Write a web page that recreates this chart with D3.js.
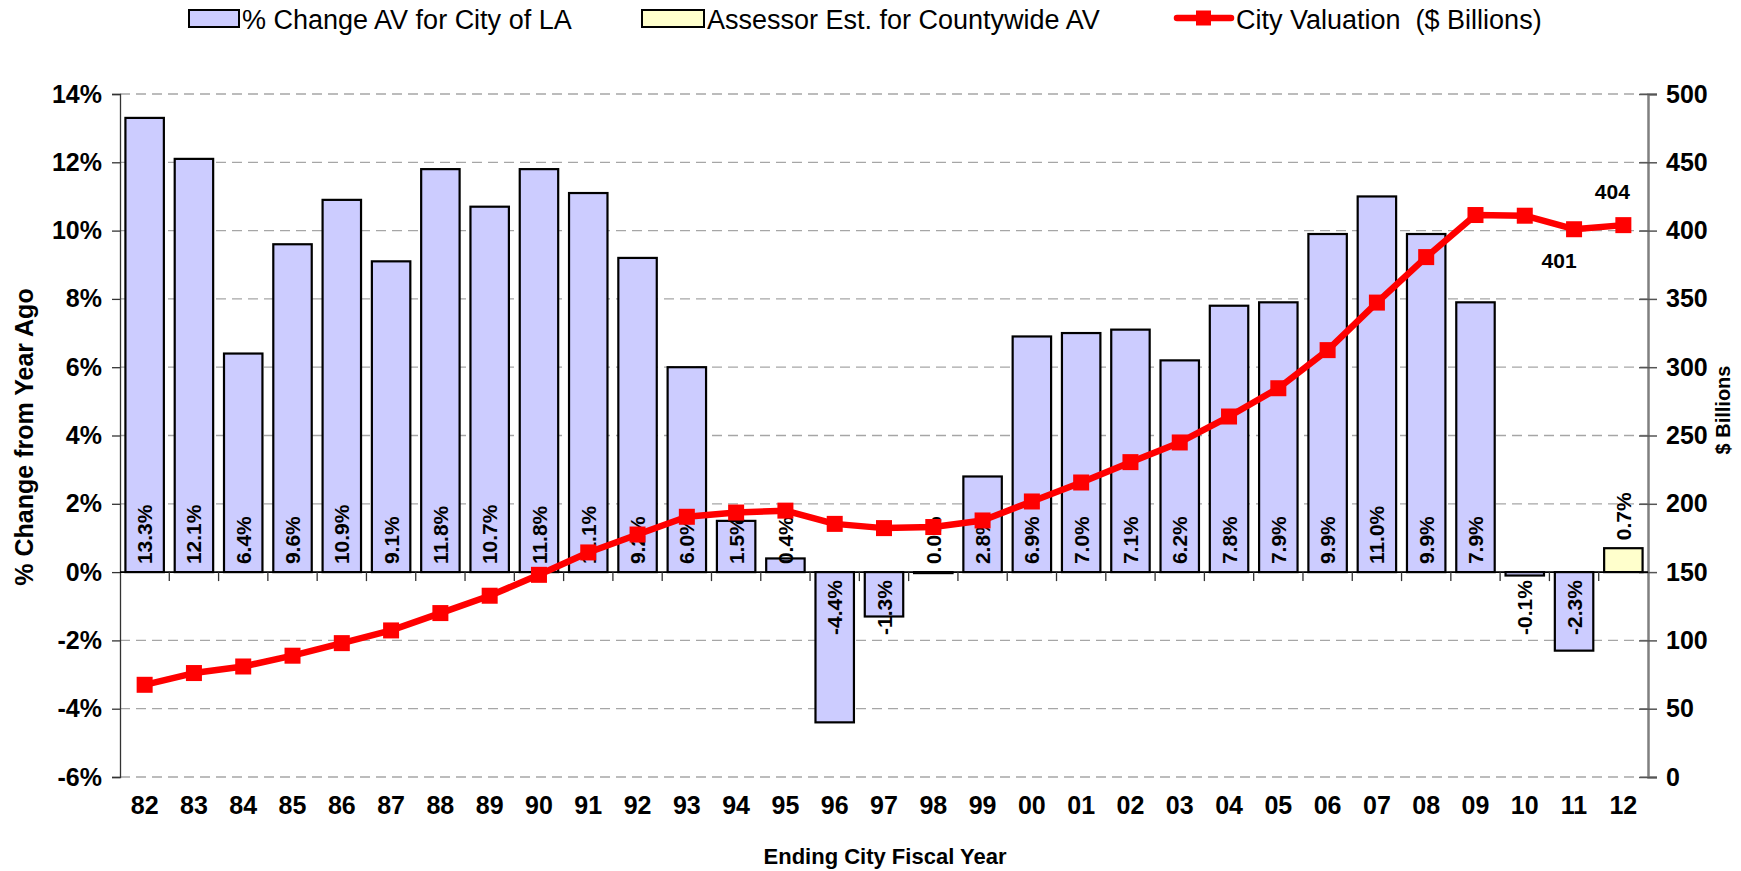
<!DOCTYPE html>
<html>
<head>
<meta charset="utf-8">
<script src="https://cdn.jsdelivr.net/npm/d3@7"></script>
<style>
    body { margin: 0; background: #fff; }
    text { font-family: "Liberation Sans", Arial, sans-serif; fill: #000; white-space: pre; }
</style>
</head>
<body>
<div id="chart"></div>
<script>

// fiscal years (ending)
const years = ["82","83","84","85","86","87","88","89","90","91","92","93","94","95","96",
    "97","98","99","00","01","02","03","04","05","06","07","08","09","10","11","12"];

// % change in assessed value from year ago
const pctChange = [13.3, 12.1, 6.4, 9.6, 10.9, 9.1, 11.8, 10.7, 11.8, 11.1, 9.2, 6.0, 1.5, 0.4, -4.4,
    -1.3, 0.0, 2.8, 6.9, 7.0, 7.1, 6.2, 7.8, 7.9, 9.9, 11.0, 9.9, 7.9, -0.1, -2.3, 0.7];

// years where the bar is the assessor estimate rather than the city figure
const estimateYears = ["12"];

// city valuation, $ billions
const cityValuation = [67.5, 76.1, 80.9, 88.8, 98.0, 107.3, 120.0, 132.7, 148.0, 164.4, 177.5, 190.5,
    193.6, 195.0, 185.3, 182.2, 183.0, 187.8, 201.7, 215.6, 230.5, 244.9, 263.9, 284.6, 312.5, 347.3,
    380.6, 411.4, 410.9, 401.0, 404.0];

// points that carry a value label
const labelledYears = ["11", "12"];

const leftTicks = [-6, -4, -2, 0, 2, 4, 6, 8, 10, 12, 14];
const rightTicks = [0, 50, 100, 150, 200, 250, 300, 350, 400, 450, 500];

const legendItems = ["% Change AV for City of LA", "Assessor Est. for Countywide AV", "City Valuation  ($ Billions)"];


class ValuationChart {

    constructor(_parentElement) {
        this.parentElement = _parentElement;
        this.data = years.map((y, i) => ({
            year: y,
            pct: pctChange[i],
            val: cityValuation[i],
            estimate: estimateYears.includes(y)
        }));
        this.initVis();
    }

    initVis() {
        let vis = this;

        vis.margin = { top: 94, right: 93, bottom: 94, left: 120 };
        vis.width = 1741 - vis.margin.left - vis.margin.right;
        vis.height = 871 - vis.margin.top - vis.margin.bottom;

        vis.root = d3.select("#" + vis.parentElement).append("svg")
            .attr("width", 1741)
            .attr("height", 871);

        vis.svg = vis.root.append("g")
            .attr("transform", "translate(" + vis.margin.left + "," + vis.margin.top + ")");

        // scales
        vis.x = d3.scaleBand()
            .domain(years)
            .range([0, vis.width])
            .paddingInner(0.22)
            .paddingOuter(0.11);

        vis.y = d3.scaleLinear()
            .domain([-6, 14])
            .range([vis.height, 0]);

        vis.y2 = d3.scaleLinear()
            .domain([0, 500])
            .range([vis.height, 0]);

        vis.wrangleData();
    }

    wrangleData() {
        let vis = this;
        vis.displayData = vis.data;
        vis.updateVis();
    }

    updateVis() {
        let vis = this;
        let y0 = vis.y(0);

        // dashed gridlines
        vis.svg.append("g")
            .selectAll("line")
            .data(leftTicks)
            .enter().append("line")
            .attr("x1", 0)
            .attr("x2", vis.width)
            .attr("y1", d => vis.y(d))
            .attr("y2", d => vis.y(d))
            .attr("stroke", "#a6a6a6")
            .attr("stroke-width", 1.3)
            .attr("stroke-dasharray", "10,6");

        // bars
        vis.svg.selectAll(".bar")
            .data(vis.displayData)
            .enter().append("rect")
            .attr("class", "bar")
            .attr("x", d => vis.x(d.year))
            .attr("width", vis.x.bandwidth())
            .attr("y", d => d.pct >= 0 ? vis.y(d.pct) : y0)
            .attr("height", d => Math.max(1, Math.abs(vis.y(d.pct) - y0)))
            .attr("fill", d => d.estimate ? "#ffffcc" : "#ccccff")
            .attr("stroke", "#000")
            .attr("stroke-width", 2.2);

        // left axis
        vis.yAxis = d3.axisLeft(vis.y)
            .tickValues(leftTicks)
            .tickFormat(d => d + "%")
            .tickSize(8)
            .tickPadding(10);

        let ya = vis.svg.append("g")
            .attr("class", "y-axis axis")
            .call(vis.yAxis);
        ya.select(".domain").attr("stroke", "#333").attr("stroke-width", 1.3);
        ya.selectAll(".tick line").attr("stroke", "#333").attr("stroke-width", 1.3);
        ya.selectAll("text")
            .style("font-family", "'Liberation Sans', Arial, sans-serif")
            .style("font-size", "25px")
            .style("font-weight", "bold")
            .attr("fill", "#000");

        // right axis
        vis.yAxis2 = d3.axisRight(vis.y2)
            .tickValues(rightTicks)
            .tickSize(9)
            .tickPadding(9);

        let ya2 = vis.svg.append("g")
            .attr("class", "y2-axis axis")
            .attr("transform", "translate(" + vis.width + ",0)")
            .call(vis.yAxis2);
        ya2.select(".domain").attr("stroke", "#808080").attr("stroke-width", 2.5);
        ya2.selectAll(".tick line")
            .attr("x1", -9)
            .attr("stroke", "#555").attr("stroke-width", 1.5);
        ya2.selectAll("text")
            .style("font-family", "'Liberation Sans', Arial, sans-serif")
            .style("font-size", "25px")
            .style("font-weight", "bold")
            .attr("fill", "#000");

        // category axis sits at 0%
        vis.svg.append("line")
            .attr("x1", 0).attr("x2", vis.width)
            .attr("y1", y0).attr("y2", y0)
            .attr("stroke", "#000")
            .attr("stroke-width", 1.8);

        vis.svg.append("g")
            .selectAll("line")
            .data(years.slice(1))
            .enter().append("line")
            .attr("x1", d => vis.x(d) - vis.x.step() * vis.x.paddingInner() / 2)
            .attr("x2", d => vis.x(d) - vis.x.step() * vis.x.paddingInner() / 2)
            .attr("y1", y0)
            .attr("y2", y0 + 9)
            .attr("stroke", "#333")
            .attr("stroke-width", 1.3);

        // x tick labels at bottom
        vis.svg.append("g")
            .selectAll("text")
            .data(years)
            .enter().append("text")
            .attr("x", d => vis.x(d) + vis.x.bandwidth() / 2)
            .attr("y", vis.height + 37)
            .attr("text-anchor", "middle")
            .style("font-size", "25px")
            .style("font-weight", "bold")
            .text(d => d);

        // bar value labels (rotated)
        vis.svg.append("g")
            .selectAll("text")
            .data(vis.displayData)
            .enter().append("text")
            .attr("transform", d => {
                let cx = vis.x(d.year) + vis.x.bandwidth() / 2;
                let cy;
                if (d.estimate) cy = vis.y(d.pct) - 8;
                else cy = d.pct < 0 ? y0 + 8 : y0 - 8;
                return "translate(" + cx + "," + cy + ") rotate(-90)";
            })
            .attr("text-anchor", d => d.pct < 0 ? "end" : "start")
            .attr("dy", "0.36em")
            .style("font-size", "21px")
            .style("font-weight", "bold")
            .text(d => d.pct.toFixed(1) + "%");

        // valuation line
        let line = d3.line()
            .x(d => vis.x(d.year) + vis.x.bandwidth() / 2)
            .y(d => vis.y2(d.val));

        vis.svg.append("path")
            .datum(vis.displayData)
            .attr("d", line)
            .attr("fill", "none")
            .attr("stroke", "#ff0000")
            .attr("stroke-width", 6.5)
            .attr("stroke-linejoin", "round");

        vis.svg.selectAll(".marker")
            .data(vis.displayData)
            .enter().append("rect")
            .attr("class", "marker")
            .attr("x", d => vis.x(d.year) + vis.x.bandwidth() / 2 - 8)
            .attr("y", d => vis.y2(d.val) - 8)
            .attr("width", 16)
            .attr("height", 16)
            .attr("fill", "#ff0000");

        // value labels on the last points
        let lab = vis.displayData.filter(d => labelledYears.includes(d.year));
        vis.svg.append("g")
            .selectAll("text")
            .data(lab)
            .enter().append("text")
            .attr("x", d => {
                let prev = vis.displayData[years.indexOf(d.year) - 1];
                return vis.x(d.year) + vis.x.bandwidth() / 2 - (d.val < prev.val ? 15 : 11);
            })
            .attr("y", d => {
                let prev = vis.displayData[years.indexOf(d.year) - 1];
                // below when the line dips, above otherwise
                return d.val < prev.val ? vis.y2(d.val) + 39 : vis.y2(d.val) - 26;
            })
            .attr("text-anchor", "middle")
            .style("font-size", "21px")
            .style("font-weight", "bold")
            .text(d => Math.round(d.val));

        // axis titles
        vis.root.append("text")
            .attr("transform", "translate(33,437) rotate(-90)")
            .attr("text-anchor", "middle")
            .style("font-size", "25px")
            .style("font-weight", "bold")
            .text("% Change from Year Ago");

        vis.root.append("text")
            .attr("transform", "translate(1730,410) rotate(-90)")
            .attr("text-anchor", "middle")
            .style("font-size", "20px")
            .style("font-weight", "bold")
            .text("$ Billions");

        vis.root.append("text")
            .attr("x", 885)
            .attr("y", 864)
            .attr("text-anchor", "middle")
            .style("font-size", "22px")
            .style("font-weight", "bold")
            .text("Ending City Fiscal Year");

        vis.drawLegend();
    }

    drawLegend() {
        let vis = this;
        let lg = vis.root.append("g").attr("class", "legend");
        let ly = 20;

        lg.append("rect")
            .attr("x", 189).attr("y", ly - 10).attr("width", 50).attr("height", 17)
            .attr("fill", "#ccccff").attr("stroke", "#000").attr("stroke-width", 2);
        lg.append("rect")
            .attr("x", 642).attr("y", ly - 10).attr("width", 62).attr("height", 17)
            .attr("fill", "#ffffcc").attr("stroke", "#000").attr("stroke-width", 2);
        lg.append("line")
            .attr("x1", 1177).attr("x2", 1231).attr("y1", ly - 2).attr("y2", ly - 2)
            .attr("stroke", "#ff0000").attr("stroke-width", 6.5).attr("stroke-linecap", "round");
        lg.append("rect")
            .attr("x", 1196).attr("y", ly - 9.5).attr("width", 15).attr("height", 15)
            .attr("fill", "#ff0000");

        lg.selectAll(".ltext")
            .data(legendItems)
            .enter().append("text")
            .attr("class", "ltext")
            .attr("x", (d, i) => [242, 707, 1236][i])
            .attr("y", ly + 9)
            .style("font-size", "27px")
            .text(d => d);
    }
}

new ValuationChart("chart");

</script>
</body>
</html>
